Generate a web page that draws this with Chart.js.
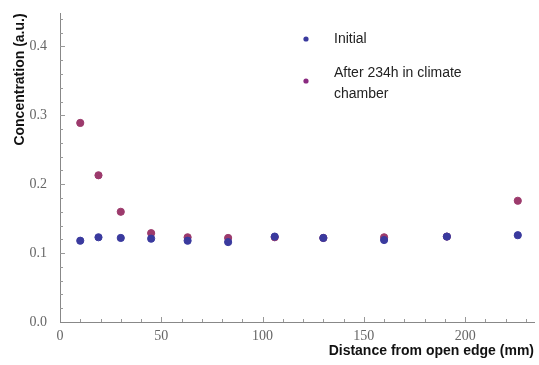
<!DOCTYPE html>
<html>
<head>
<meta charset="utf-8">
<script src="https://cdn.jsdelivr.net/npm/chart.js@4"></script>
<style>
  html, body { margin: 0; padding: 0; background: #fff; }
  #wrap { position: relative; width: 539px; height: 365px; }
</style>
</head>
<body>
<div id="wrap"><canvas id="chart-scatter"></canvas></div>
<script>
// distance from open edge (mm)
var distances = [10, 19, 30, 45, 63, 83, 106, 130, 160, 191, 226];
// concentration (a.u.)
var initialValues = [0.118, 0.123, 0.122, 0.121, 0.118, 0.116, 0.124, 0.122, 0.119, 0.124, 0.126];
var afterValues = [0.289, 0.213, 0.160, 0.129, 0.123, 0.122, 0.123, 0.122, 0.123, 0.124, 0.176];
var seriesNames = ['Initial', 'After 234h in climate chamber'];
var xTickValues = [0, 50, 100, 150, 200];
var yTickValues = [0.0, 0.1, 0.2, 0.3, 0.4];

var blue = '#3a3a9e';
var purple = '#9c3a6c';

function toPoints(xs, ys) {
    return xs.map(function(x, i) { return { x: x, y: ys[i] }; });
}

// inward frame ticks, Mathematica style
var frameTicks = {
    id: 'frameTicks',
    afterDraw: function(chart) {
        var ctx = chart.ctx;
        var xs = chart.scales.x, ys = chart.scales.y;
        var left = xs.left, bottom = ys.bottom;
        ctx.save();
        ctx.strokeStyle = '#999';
        ctx.lineWidth = 1;
        var v, p, len;
        for (v = 10; v <= xs.max; v += 10) {
            p = Math.round(xs.getPixelForValue(v)) + 0.5;
            len = (v % 50 === 0) ? 5 : 3;
            ctx.beginPath();
            ctx.moveTo(p, bottom);
            ctx.lineTo(p, bottom - len);
            ctx.stroke();
        }
        for (var k = 1; k * 0.02 <= ys.max; k++) {
            v = k * 0.02;
            p = Math.round(ys.getPixelForValue(v)) + 0.5;
            len = (k % 5 === 0) ? 5 : 3;
            ctx.beginPath();
            ctx.moveTo(left, p);
            ctx.lineTo(left + len, p);
            ctx.stroke();
        }
        ctx.restore();
    }
};

// legend placed inside the plot like the original
var innerLegend = {
    id: 'innerLegend',
    afterDraw: function(chart) {
        var ctx = chart.ctx;
        ctx.save();
        ctx.font = '14px "Liberation Sans", Arial, sans-serif';
        ctx.textBaseline = 'middle';
        ctx.fillStyle = blue;
        ctx.beginPath(); ctx.arc(306, 39, 2.6, 0, Math.PI * 2); ctx.fill();
        ctx.fillStyle = '#8a2a80';
        ctx.beginPath(); ctx.arc(306, 81, 2.6, 0, Math.PI * 2); ctx.fill();
        ctx.fillStyle = '#222';
        ctx.fillText(seriesNames[0], 334, 39);
        ctx.fillText('After 234h in climate', 334, 73);
        ctx.fillText('chamber', 334, 94);
        ctx.restore();
    }
};

var ctxScatter = document.getElementById('chart-scatter');
var scatterChart = new Chart(ctxScatter, {
    type: 'scatter',
    data: {
        datasets: [{
            label: seriesNames[1],
            data: toPoints(distances, afterValues),
            backgroundColor: purple,
            borderColor: purple,
            pointRadius: 3.6,
            order: 2
        }, {
            label: seriesNames[0],
            data: toPoints(distances, initialValues),
            backgroundColor: blue,
            borderColor: blue,
            pointRadius: 3.6,
            order: 1
        }]
    },
    options: {
        responsive: true,
        maintainAspectRatio: false,
        animation: false,
        layout: { padding: { top: 9, right: 0, left: 0, bottom: 0 } },
        plugins: {
            legend: { display: false },
            tooltip: { enabled: false }
        },
        scales: {
            x: {
                type: 'linear',
                min: 0,
                max: 234,
                afterBuildTicks: function(scale) {
                    scale.ticks = xTickValues.map(function(v) { return { value: v }; });
                },
                afterFit: function(scale) { scale.height = 43; },
                grid: { display: false },
                border: { display: true, color: '#888', width: 1 },
                ticks: {
                    color: '#666',
                    padding: -2,
                    maxRotation: 0,
                    font: { family: '"Liberation Serif", "Times New Roman", serif', size: 14 }
                },
                title: {
                    display: true,
                    text: 'Distance from open edge (mm)',
                    align: 'end',
                    color: '#111',
                    padding: { top: 0, bottom: 5 },
                    font: { family: '"Liberation Sans", Arial, sans-serif', size: 14, weight: 'bold' }
                }
            },
            y: {
                type: 'linear',
                min: 0,
                max: 0.448,
                afterBuildTicks: function(scale) {
                    scale.ticks = yTickValues.map(function(v) { return { value: v }; });
                },
                afterFit: function(scale) { scale.width = 60; },
                grid: { display: false },
                border: { display: true, color: '#888', width: 1 },
                ticks: {
                    color: '#666',
                    padding: 5,
                    callback: function(v) { return v.toFixed(1); },
                    font: { family: '"Liberation Serif", "Times New Roman", serif', size: 14 }
                },
                title: {
                    display: true,
                    text: 'Concentration (a.u.)',
                    align: 'end',
                    color: '#111',
                    padding: { top: 12, bottom: 0 },
                    font: { family: '"Liberation Sans", Arial, sans-serif', size: 14, weight: 'bold' }
                }
            }
        }
    },
    plugins: [frameTicks, innerLegend]
});
</script>
</body>
</html>
